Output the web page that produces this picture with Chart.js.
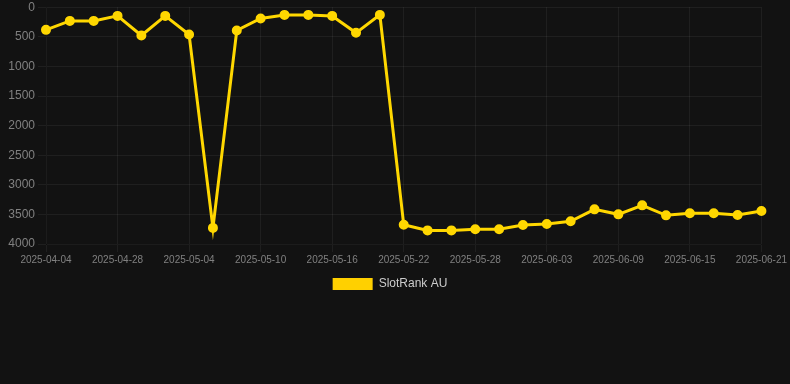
<!DOCTYPE html>
<html lang="en">
<head>
  <meta charset="UTF-8" />
  <title>SlotRank AU</title>
  <script src="https://cdn.jsdelivr.net/npm/chart.js"></script>
  <style>
    html, body {
      margin: 0;
      padding: 0;
      background: #121212;
    }
    .chart-box {
      width: 790px;
      height: 300px;
      position: relative;
    }
  </style>
</head>
<body>
  <div class="chart-box">
    <canvas id="rankChart"></canvas>
  </div>

  <script>
    const dates = [
      '2025-04-04', '2025-04-24', '2025-04-26', '2025-04-28', '2025-04-30', '2025-05-02',
      '2025-05-04', '2025-05-06', '2025-05-08', '2025-05-10', '2025-05-12', '2025-05-14',
      '2025-05-16', '2025-05-18', '2025-05-20', '2025-05-22', '2025-05-24', '2025-05-26',
      '2025-05-28', '2025-05-30', '2025-06-01', '2025-06-03', '2025-06-05', '2025-06-07',
      '2025-06-09', '2025-06-11', '2025-06-13', '2025-06-15', '2025-06-17', '2025-06-19',
      '2025-06-21'
    ];
    const ranks = [
      383, 231, 231, 147, 478, 147, 461, 3728, 394, 191, 130, 130,
      147, 433, 130, 3674, 3770, 3770, 3752, 3752, 3679, 3662, 3617, 3415,
      3499, 3347, 3516, 3482, 3482, 3510, 3443
    ];
    const yTicks = [0, 500, 1000, 1500, 2000, 2500, 3000, 3500, 4000];

    Chart.defaults.font.family = "'Liberation Sans', Arial, Helvetica, sans-serif";

    // nudge the legend a bit to the left
    const legendShift = {
      id: 'legendShift',
      afterLayout: function (chart) { chart.legend.left -= 10; }
    };

    const ctx = document.getElementById('rankChart').getContext('2d');
    new Chart(ctx, {
      type: 'line',
      data: {
        labels: dates,
        datasets: [{
          label: 'SlotRank AU',
          data: ranks,
          borderColor: '#FFD700',
          backgroundColor: '#FFD000',
          borderWidth: 3,
          tension: 0,
          pointRadius: 4,
          pointBorderWidth: 2,
          pointBackgroundColor: '#FFD700',
          pointBorderColor: '#FFD700',
          fill: false
        }]
      },
      options: {
        responsive: true,
        maintainAspectRatio: false,
        animation: false,
        scales: {
          x: {
            grid: { color: 'rgba(255,255,255,0.06)' },
            ticks: {
              color: '#808080',
              font: { size: 10, lineHeight: 1 },
              maxRotation: 0,
              autoSkip: true,
              callback: function (v, i) { return i % 3 === 0 ? dates[i] : null; }
            }
          },
          y: {
            reverse: true,
            min: yTicks[0],
            max: yTicks[yTicks.length - 1],
            grid: { color: 'rgba(255,255,255,0.06)' },
            afterBuildTicks: function (axis) {
              axis.ticks = yTicks.map(function (v) { return { value: v }; });
            },
            afterFit: function (axis) { axis.width = 46; },
            ticks: {
              color: '#808080',
              font: { size: 12, lineHeight: 0.7 },
              callback: function (v) { return String(v); }
            }
          }
        },
        plugins: {
          legend: {
            position: 'bottom',
            labels: {
              color: '#ccc',
              font: { size: 12 },
              boxWidth: 40,
              boxHeight: 12,
              generateLabels: function (chart) {
                const items = Chart.defaults.plugins.legend.labels.generateLabels(chart);
                items.forEach(function (it) { it.lineWidth = 0; it.fillStyle = '#FFD000'; });
                return items;
              }
            }
          },
          tooltip: { enabled: false }
        }
      },
      plugins: [legendShift]
    });
  </script>
</body>
</html>
